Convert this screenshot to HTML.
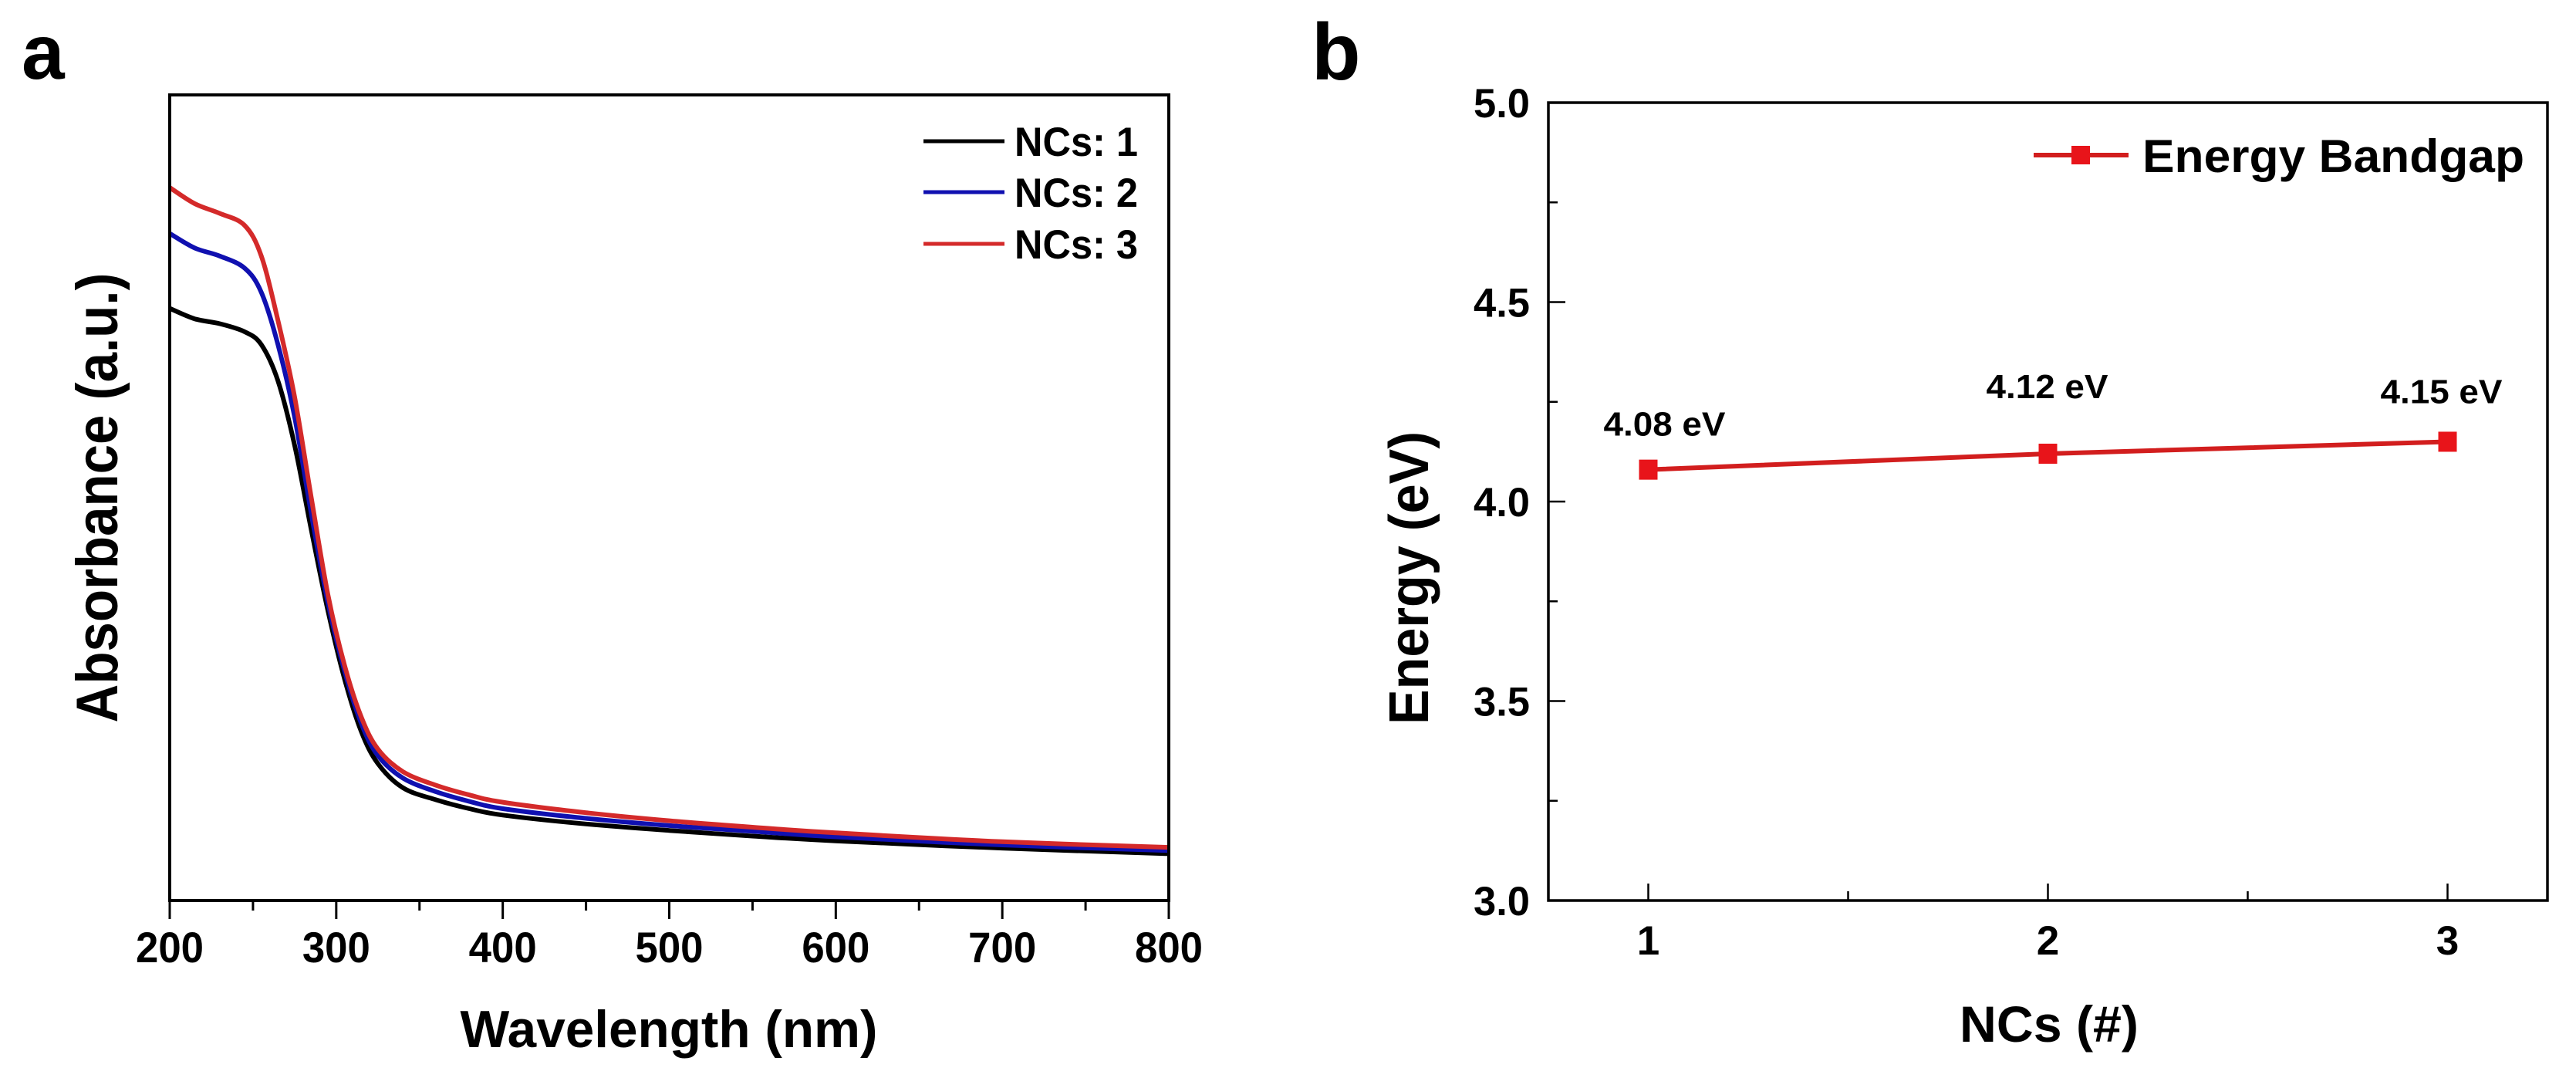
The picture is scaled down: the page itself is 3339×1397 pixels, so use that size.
<!DOCTYPE html>
<html><head><meta charset="utf-8"><style>
html,body{margin:0;padding:0;background:#fff}
svg{display:block}
text{font-family:"Liberation Sans",Arial,sans-serif;font-weight:bold;fill:#000}
</style></head><body>
<svg id="fig" width="3339" height="1397" viewBox="0 0 3339 1397" xmlns="http://www.w3.org/2000/svg">
<text x="28" y="102" font-size="100">a</text>
<text x="1700" y="103" font-size="104">b</text>
<g id="pa"></g>
<g id="pb"></g>
</svg>
<script>
// Panel a data
const wavelengths = [200,215,230,245,255,265,275,285,295,305,315,325,340,360,380,400,450,500,550,600,700,800];
const absNC1 = [0.735,0.722,0.716,0.706,0.69,0.645,0.565,0.46,0.36,0.275,0.21,0.17,0.14,0.125,0.114,0.106,0.095,0.087,0.08,0.074,0.065,0.058];
const absNC2 = [0.828,0.81,0.8,0.785,0.755,0.69,0.6,0.48,0.37,0.285,0.22,0.18,0.152,0.135,0.123,0.114,0.102,0.093,0.086,0.079,0.069,0.062];
const absNC3 = [0.885,0.865,0.853,0.838,0.8,0.72,0.625,0.5,0.38,0.292,0.228,0.188,0.16,0.143,0.131,0.122,0.109,0.099,0.091,0.084,0.073,0.066];
const xTicksA = [200,300,400,500,600,700,800];
const seriesNamesA = ["NCs: 1","NCs: 2","NCs: 3"];
// Panel b data
const ncCategories = [1,2,3];
const bandgapValues = [4.08,4.12,4.15];
const bandgapLabels = ["4.08 eV","4.12 eV","4.15 eV"];
const yTicksB = [3.0,3.5,4.0,4.5,5.0];

const NS="http://www.w3.org/2000/svg";
function mk(tag,attrs,parent,txt){const e=document.createElementNS(NS,tag);for(const k in attrs)e.setAttribute(k,attrs[k]);if(txt!==undefined)e.textContent=txt;parent.appendChild(e);return e;}
function smooth(pts){let d="M"+pts[0][0]+","+pts[0][1];for(let i=0;i<pts.length-1;i++){const p0=pts[Math.max(0,i-1)],p1=pts[i],p2=pts[i+1],p3=pts[Math.min(pts.length-1,i+2)];const c1x=p1[0]+(p2[0]-p0[0])/6,c1y=p1[1]+(p2[1]-p0[1])/6,c2x=p2[0]-(p3[0]-p1[0])/6,c2y=p2[1]-(p3[1]-p1[1])/6;d+=" C"+c1x.toFixed(1)+","+c1y.toFixed(1)+" "+c2x.toFixed(1)+","+c2y.toFixed(1)+" "+p2[0].toFixed(1)+","+p2[1].toFixed(1);}return d;}

// ---- Panel a ----
const pa=document.getElementById('pa');
const AL=220,AR=1515,AT=123,AB=1167;
const xa=w=>AL+(w-200)/600*(AR-AL);
const ya=v=>AB-v*(AB-AT);
const colorsA=["#000000","#1010b0","#d42a2a"];
[absNC1,absNC2,absNC3].forEach((s,i)=>{
  const p=mk('path',{d:smooth(wavelengths.map((w,j)=>[xa(w),ya(s[j])])),fill:'none',stroke:colorsA[i],'stroke-width':6},pa);
  
  
});
const fa=mk('rect',{x:AL,y:AT,width:AR-AL,height:AB-AT,fill:'none',stroke:'#000','stroke-width':4},pa);


for(let w=200;w<=800;w+=50){
  const major=(w%100===0);
  const t=mk('line',{x1:xa(w),x2:xa(w),y1:AB,y2:AB+(major?24:13),stroke:'#000','stroke-width':3},pa);
  
  
}
xTicksA.forEach(w=>{
  const t=mk('text',{x:xa(w),y:1247,'font-size':56,'text-anchor':'middle',textLength:88,lengthAdjust:'spacingAndGlyphs'},pa,String(w));
  
  
});
const xtA=mk('text',{x:867,y:1357,'font-size':68,'text-anchor':'middle',textLength:541,lengthAdjust:'spacingAndGlyphs'},pa,'Wavelength (nm)');


const ytA=mk('text',{x:0,y:0,'font-size':76,'text-anchor':'middle',textLength:583,lengthAdjust:'spacingAndGlyphs',transform:'translate(152,645) rotate(-90)'},pa,'Absorbance (a.u.)');


[183,249,316].forEach((yy,i)=>{
  const l=mk('line',{x1:1197,x2:1302,y1:yy,y2:yy,stroke:colorsA[i],'stroke-width':5},pa);
  
  
  const t=mk('text',{x:1315,y:yy+19,'font-size':53,textLength:160,lengthAdjust:'spacingAndGlyphs'},pa,seriesNamesA[i]);
  
  
});

// ---- Panel b ----
const pb=document.getElementById('pb');
const BL=2007,BR=3302,BT=133,BB=1167;
const xb=n=>BL+(n-0.75)/2.5*(BR-BL);
const yb=e=>BB-(e-3)/2*(BB-BT);
const fb=mk('rect',{x:BL,y:BT,width:BR-BL,height:BB-BT,fill:'none',stroke:'#000','stroke-width':3.5},pb);


for(let e=3.0;e<=5.001;e+=0.25){
  const major=Math.abs(e*2-Math.round(e*2))<1e-6;
  const t=mk('line',{x1:BL,x2:BL+(major?22:12),y1:yb(e),y2:yb(e),stroke:'#000','stroke-width':2.5},pb);
  
  
}
for(let n=1;n<=3;n+=0.5){
  const major=(n%1===0);
  const t=mk('line',{x1:xb(n),x2:xb(n),y1:BB,y2:BB-(major?22:12),stroke:'#000','stroke-width':2.5},pb);
  
  
}
yTicksB.forEach(e=>{
  const t=mk('text',{x:1983,y:yb(e)+19,'font-size':53,'text-anchor':'end',textLength:73,lengthAdjust:'spacingAndGlyphs'},pb,e.toFixed(1));
  
  
});
ncCategories.forEach(n=>{
  const t=mk('text',{x:xb(n),y:1237,'font-size':53,'text-anchor':'middle'},pb,String(n));
  
  
});
const xtB=mk('text',{x:2656,y:1350,'font-size':66,'text-anchor':'middle',textLength:232,lengthAdjust:'spacingAndGlyphs'},pb,'NCs (#)');


const ytB=mk('text',{x:0,y:0,'font-size':72,'text-anchor':'middle',textLength:380,lengthAdjust:'spacingAndGlyphs',transform:'translate(1851,749) rotate(-90)'},pb,'Energy (eV)');


const lineB=mk('polyline',{points:ncCategories.map((n,i)=>xb(n)+','+yb(bandgapValues[i])).join(' '),fill:'none',stroke:'#d21e1e','stroke-width':6},pb);


ncCategories.forEach((n,i)=>{
  const m=mk('rect',{x:xb(n)-12,y:yb(bandgapValues[i])-13,width:24,height:26,fill:'#e8141a'},pb);
  
  
});
const lblOff=[[-58,-44],[-80,-72],[-87,-50]];
ncCategories.forEach((n,i)=>{
  const t=mk('text',{x:xb(n)+lblOff[i][0],y:yb(bandgapValues[i])+lblOff[i][1],'font-size':44,textLength:158,lengthAdjust:'spacingAndGlyphs'},pb,bandgapLabels[i]);
  
  
});
const lgl=mk('line',{x1:2636,x2:2759,y1:201,y2:201,stroke:'#d21e1e','stroke-width':6},pb);


const lgm=mk('rect',{x:2685,y:189,width:24,height:24,fill:'#e8141a'},pb);


const lgt=mk('text',{x:2777,y:223,'font-size':60,textLength:495,lengthAdjust:'spacingAndGlyphs'},pb,'Energy Bandgap');


</script>
</body></html>
